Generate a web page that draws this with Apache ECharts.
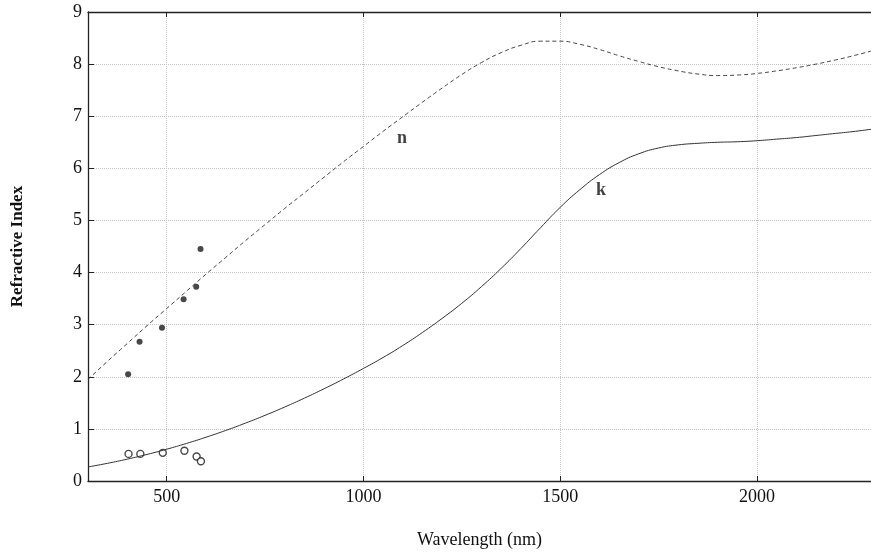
<!DOCTYPE html>
<html>
<head>
<meta charset="utf-8">
<script src="https://cdn.jsdelivr.net/npm/echarts@6/dist/echarts.min.js"></script>
<style>
  html, body { margin: 0; padding: 0; background: #fff; }
  #chart { width: 871px; height: 554px; }
</style>
</head>
<body>
<div id="chart"></div>
<script>
// Wavelength samples (nm) for the model curves, every 50 nm
const wavelength = [300, 350, 400, 450, 500, 550, 600, 650, 700, 750, 800, 850, 900, 950, 1000,
  1050, 1100, 1150, 1200, 1250, 1300, 1350, 1400, 1450, 1500, 1550, 1600, 1650, 1700, 1750,
  1800, 1850, 1900, 1950, 2000, 2050, 2100, 2150, 2200, 2250, 2300];
// Refractive index n (dashed curve)
const nValues = [1.95, 2.30, 2.64, 2.98, 3.31, 3.64, 3.97, 4.29, 4.61, 4.92, 5.23, 5.53, 5.83, 6.13, 6.42,
  6.71, 6.99, 7.27, 7.54, 7.80, 8.03, 8.22, 8.36, 8.44, 8.44, 8.38, 8.28, 8.16, 8.05, 7.95,
  7.87, 7.81, 7.78, 7.79, 7.82, 7.87, 7.93, 8.00, 8.08, 8.17, 8.27];
// Extinction coefficient k (solid curve)
const kValues = [0.27, 0.34, 0.42, 0.51, 0.61, 0.72, 0.84, 0.97, 1.11, 1.26, 1.42, 1.59, 1.77, 1.96, 2.16,
  2.37, 2.60, 2.85, 3.12, 3.41, 3.73, 4.08, 4.46, 4.86, 5.25, 5.59, 5.88, 6.11, 6.28, 6.39,
  6.45, 6.48, 6.50, 6.51, 6.53, 6.56, 6.59, 6.63, 6.67, 6.71, 6.76];
// Measured points
const measWavelength = [402, 431, 488, 543, 575, 586];
const nMeasured = [2.05, 2.67, 2.94, 3.49, 3.73, 4.45];
const kMeasWavelength = [403, 433, 490, 545, 576, 587];
const kMeasured = [0.52, 0.52, 0.54, 0.58, 0.47, 0.38];
// Curve labels: [wavelength, value, text]
const curveLabels = [[1098, 6.58, 'n'], [1604, 5.57, 'k']];
// Axis ticks
const xTicks = [500, 1000, 1500, 2000];
const yTicks = [0, 1, 2, 3, 4, 5, 6, 7, 8, 9];

const zip = (xs, ys) => xs.map((x, i) => [x, ys[i]]);
const serif = '"Liberation Serif", "DejaVu Serif", serif';
const ink = '#222';

const chart = echarts.init(document.getElementById('chart'));
chart.setOption({
  backgroundColor: '#fff',
  animation: false,
  grid: { left: 88, right: 0, top: 12, bottom: 73 },
  xAxis: [{
    type: 'value', min: 300, max: 2290, position: 'bottom',
    name: 'Wavelength (nm)', nameLocation: 'middle', nameGap: 50,
    nameTextStyle: { fontFamily: serif, fontSize: 18, color: '#111' },
    axisLine: { show: true, onZero: false, lineStyle: { color: ink, width: 1.3 } },
    axisTick: { show: true, inside: true, length: 5, customValues: xTicks, lineStyle: { color: ink } },
    axisLabel: { customValues: xTicks, fontFamily: serif, fontSize: 18, color: '#111', margin: 7,
      formatter: v => String(v) },
    splitLine: { show: true, lineStyle: { color: '#c4c4c4', type: 'dotted', width: 1 } }
  }, {
    type: 'value', min: 300, max: 2290, position: 'top',
    axisLine: { show: true, onZero: false, lineStyle: { color: ink, width: 1.3 } },
    axisTick: { show: true, inside: true, length: 5, customValues: xTicks, lineStyle: { color: ink } },
    axisLabel: { show: false },
    splitLine: { show: false }
  }],
  yAxis: {
    type: 'value', min: 0, max: 9, interval: 1,
    name: 'Refractive Index', nameLocation: 'middle', nameGap: 62,
    nameTextStyle: { fontFamily: serif, fontSize: 17, fontWeight: 'bold', color: '#111' },
    axisLine: { show: true, lineStyle: { color: ink, width: 1.3 } },
    axisTick: { show: true, inside: true, length: 6, lineStyle: { color: ink } },
    axisLabel: { fontFamily: serif, fontSize: 18, color: '#111', margin: 6,
      formatter: v => (yTicks.includes(v) ? String(v) : '') },
    splitLine: { show: true, lineStyle: { color: '#c4c4c4', type: 'dotted', width: 1 } }
  },
  series: [{
    name: 'n', type: 'line', data: zip(wavelength, nValues),
    smooth: 0.5, showSymbol: false, clip: true,
    lineStyle: { color: '#444', width: 1, type: [4, 3] }
  }, {
    name: 'k', type: 'line', data: zip(wavelength, kValues),
    smooth: 0.5, showSymbol: false, clip: true,
    lineStyle: { color: '#333', width: 1 }
  }, {
    name: 'n measured', type: 'scatter', data: zip(measWavelength, nMeasured),
    symbol: 'circle', symbolSize: 6, itemStyle: { color: '#1a1a1a' }
  }, {
    name: 'k measured', type: 'scatter', data: zip(kMeasWavelength, kMeasured),
    symbol: 'circle', symbolSize: 7,
    itemStyle: { color: '#fff', borderColor: '#1a1a1a', borderWidth: 1.4 }
  }, {
    name: 'curve labels', type: 'scatter', symbolSize: 0,
    data: curveLabels.map(d => ({ value: [d[0], d[1]], name: d[2] })),
    label: { show: true, position: 'inside', formatter: p => p.name,
      fontFamily: serif, fontSize: 18, fontWeight: 'bold', color: '#111' }
  }]
});
</script>
</body>
</html>
